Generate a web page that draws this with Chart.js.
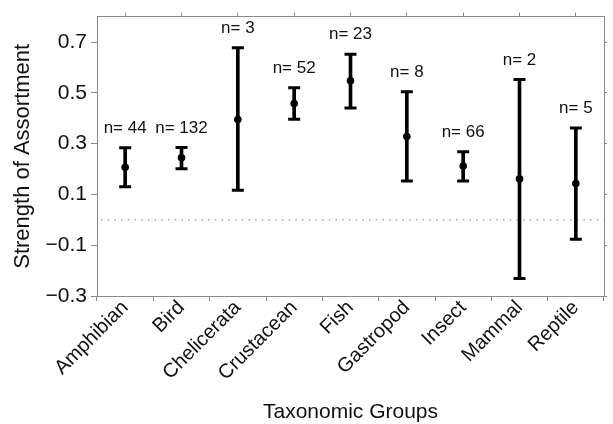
<!DOCTYPE html>
<html>
<head>
<meta charset="utf-8">
<script src="https://cdn.jsdelivr.net/npm/chart.js@4/dist/chart.umd.min.js"></script>
<style>
  html, body { margin: 0; padding: 0; background: #fff; }
  #wrap { width: 613px; height: 424px; }
</style>
</head>
<body>
<div id="wrap"><canvas id="chart" width="613" height="424"></canvas></div>
<script>
const groups = ["Amphibian", "Bird", "Chelicerata", "Crustacean", "Fish", "Gastropod", "Insect", "Mammal", "Reptile"];
const means = [0.207, 0.244, 0.395, 0.458, 0.547, 0.328, 0.212, 0.161, 0.143];
const upper = [0.284, 0.285, 0.677, 0.520, 0.652, 0.504, 0.268, 0.552, 0.361];
const lower = [0.130, 0.201, 0.116, 0.396, 0.440, 0.153, 0.153, -0.231, -0.077];
const sampleSizes = [44, 132, 3, 52, 23, 8, 66, 2, 5];
const yTicks = [-0.3, -0.1, 0.1, 0.3, 0.5, 0.7];
const refLine = 0;

const FONT = "'Liberation Sans', Arial, sans-serif";
const AXIS = "#8a8a8a";
const INK = "#111";

// dotted reference line and the "n= .." labels
const extras = {
  id: "extras",
  beforeDatasetsDraw(chart) {
    const { ctx, chartArea, scales } = chart;
    const y = scales.y.getPixelForValue(refLine);
    ctx.save();
    ctx.strokeStyle = "#a8a8a8";
    ctx.lineWidth = 1.5;
    ctx.setLineDash([1.5, 5.2]);
    ctx.beginPath();
    ctx.moveTo(chartArea.left + 4, y);
    ctx.lineTo(chartArea.right, y);
    ctx.stroke();
    ctx.restore();
  },
  afterDatasetsDraw(chart) {
    const { ctx, scales } = chart;
    ctx.save();
    ctx.fillStyle = INK;
    ctx.font = "17px " + FONT;
    ctx.textAlign = "center";
    ctx.textBaseline = "middle";
    sampleSizes.forEach((n, i) => {
      const x = scales.x.getPixelForValue(i);
      const y = scales.y.getPixelForValue(upper[i]) - 19.5;
      ctx.fillText("n= " + n, x, y);
    });
    ctx.restore();
  }
};

const setTicks = scale => {
  scale.ticks = yTicks.map(v => ({ value: v }));
};

new Chart(document.getElementById("chart"), {
  data: {
    labels: groups,
    datasets: [
      {
        type: "bar",
        data: groups.map((g, i) => [lower[i], upper[i]]),
        backgroundColor: "#000",
        borderWidth: 0,
        barThickness: 3,
        order: 3
      },
      {
        type: "line",
        data: upper,
        showLine: false,
        pointStyle: "line",
        pointRadius: 6,
        pointBorderWidth: 3,
        borderColor: "#000",
        order: 2
      },
      {
        type: "line",
        data: lower,
        showLine: false,
        pointStyle: "line",
        pointRadius: 6,
        pointBorderWidth: 3,
        borderColor: "#000",
        order: 2
      },
      {
        type: "line",
        data: means,
        showLine: false,
        pointStyle: "circle",
        pointRadius: 3.8,
        pointBorderWidth: 0,
        pointBackgroundColor: "#000",
        order: 1
      }
    ]
  },
  options: {
    responsive: false,
    devicePixelRatio: 1,
    animation: false,
    layout: { padding: 0 },
    plugins: {
      legend: { display: false },
      tooltip: { enabled: false }
    },
    scales: {
      x: {
        type: "category",
        position: "bottom",
        offset: true,
        grid: { drawOnChartArea: false, drawTicks: true, tickLength: 5, color: AXIS },
        border: { display: true, color: AXIS, width: 1 },
        ticks: {
          color: INK,
          font: { family: FONT, size: 20 },
          minRotation: 45,
          maxRotation: 45,
          autoSkip: false,
          padding: -5
        },
        title: {
          display: true,
          text: "Taxonomic Groups",
          color: INK,
          font: { family: FONT, size: 21, lineHeight: 1.2 },
          padding: { top: 0, bottom: -1 }
        },
        afterFit(scale) { scale.height = 128; }
      },
      x2: {
        type: "category",
        position: "top",
        offset: true,
        labels: groups,
        grid: { drawOnChartArea: false, drawTicks: true, tickLength: 4, color: AXIS },
        border: { display: true, color: AXIS, width: 1 },
        ticks: { display: false },
        afterFit(scale) { scale.height = 14; }
      },
      y: {
        type: "linear",
        position: "left",
        min: -0.3,
        max: 0.8,
        afterBuildTicks: setTicks,
        grid: { drawOnChartArea: false, drawTicks: true, tickLength: 6, color: AXIS },
        border: { display: true, color: AXIS, width: 1 },
        ticks: {
          color: INK,
          font: { family: FONT, size: 21 },
          padding: 4,
          callback: v => Number(v).toFixed(1).replace("-", "\u2212")
        },
        title: {
          display: true,
          text: "Strength of Assortment",
          color: INK,
          font: { family: FONT, size: 22, lineHeight: 1.2 },
          padding: { top: 10, bottom: 0 }
        },
        afterFit(scale) { scale.width = 97; }
      },
      y2: {
        type: "linear",
        position: "right",
        min: -0.3,
        max: 0.8,
        afterBuildTicks: setTicks,
        grid: { drawOnChartArea: false, drawTicks: true, tickLength: 3, color: AXIS },
        border: { display: true, color: AXIS, width: 1 },
        ticks: { display: false },
        afterFit(scale) { scale.width = 3; }
      }
    }
  },
  plugins: [extras]
});
</script>
</body>
</html>
